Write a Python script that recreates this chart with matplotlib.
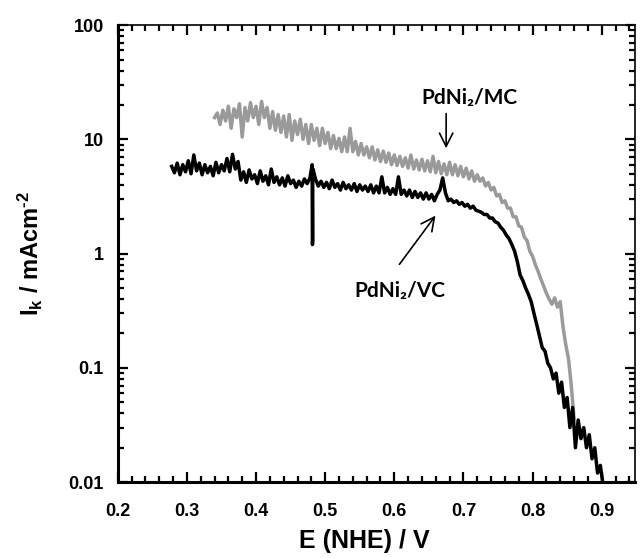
import numpy as np
import matplotlib
matplotlib.use("Agg")
import matplotlib.pyplot as plt
from matplotlib.ticker import FixedLocator, FixedFormatter, LogLocator, NullFormatter, MultipleLocator

plt.rcParams['font.family'] = ['Liberation Sans', 'DejaVu Sans']
plt.rcParams['mathtext.fontset'] = 'custom'
plt.rcParams['mathtext.rm'] = 'Liberation Sans:bold'
plt.rcParams['mathtext.it'] = 'Liberation Sans:bold'
plt.rcParams['mathtext.bf'] = 'Liberation Sans:bold'
plt.rcParams['mathtext.default'] = 'rm'

# ---- data: PdNi2/MC (grey), potential grid start/step and kinetic current ----
mc_e_start, mc_e_step = 0.340, 0.004
mc_ik = [15.5, 17, 13.5, 18, 14.5, 19.5, 12.5, 18.5, 15.5, 20.5,
         10.5, 19, 14.5, 21, 15.5, 19.5, 13.5, 21.5, 15.5, 19,
         12.5, 17.5, 12, 16.5, 11.5, 16, 10.5, 16.5, 9.8, 14.5,
         11, 15, 10, 13.5, 9.2, 13.5, 9.8, 12.5, 8.8, 12.5,
         9.2, 11.5, 8.3, 10.8, 8.3, 10.2, 7.8, 10.5, 7.8, 12.5,
         7.8, 9.6, 7.3, 9.2, 7.3, 8.6, 6.9, 8.6, 6.6, 8.1,
         6.4, 7.9, 6.3, 7.6, 6.0, 7.3, 5.9, 7.1, 5.8, 6.9,
         5.6, 7.3, 5.5, 6.6, 5.4, 6.7, 5.3, 6.5, 5.2, 7.1,
         5.1, 6.4, 5.0, 6.1, 4.9, 6.3, 4.9, 6.0, 4.8, 5.8,
         4.7, 5.6, 4.5, 5.3, 4.3, 4.9, 4.3, 4.6, 3.9, 4.2,
         3.6, 3.8, 3.2, 3.3, 2.8, 2.9, 2.5, 2.5, 2.1, 2.1,
         1.75, 1.7, 1.4, 1.3, 1.05, 0.95, 0.8, 0.7, 0.6, 0.52,
         0.45, 0.40, 0.36, 0.41, 0.34, 0.38, 0.23, 0.16, 0.12, 0.07,
         0.036]

# ---- data: PdNi2/VC (black) ----
vc_e_start, vc_e_step = 0.278, 0.004
vc_ik = [5.8, 5.1, 6.2, 4.9, 6.0, 5.2, 6.5, 5.0, 7.3, 5.3,
         6.2, 4.9, 6.0, 5.1, 5.8, 4.8, 6.3, 5.1, 6.0, 5.3,
         6.8, 5.2, 7.4, 5.5, 6.4, 4.4, 5.2, 4.2, 5.4, 4.5,
         4.9, 4.1, 5.3, 4.3, 4.8, 4.0, 5.5, 4.2, 4.7, 4.0,
         4.6, 3.9, 4.8, 4.1, 4.4, 3.8, 4.3, 3.9, 4.5, 4.1,
         4.6, 4.2, 4.5, 3.9, 4.3, 3.8, 4.2, 3.7, 4.4, 3.8,
         4.1, 3.6, 4.2, 3.7, 4.0, 3.6, 4.1, 3.5, 4.0, 3.6,
         3.9, 3.5, 4.0, 3.4, 3.9, 3.4, 4.7, 3.4, 3.8, 3.3,
         3.7, 3.3, 4.7, 3.3, 3.6, 3.2, 3.6, 3.1, 3.5, 3.1,
         3.4, 3.0, 3.4, 3.0, 3.3, 2.9, 3.3, 3.6, 4.6, 3.4,
         2.9, 3.0, 2.8, 2.9, 2.7, 2.8, 2.6, 2.7, 2.5, 2.6,
         2.4, 2.35, 2.3, 2.2, 2.2, 2.05, 2.05, 1.9, 1.85, 1.7,
         1.6, 1.45, 1.35, 1.2, 1.05, 0.85, 0.65, 0.58, 0.5, 0.44,
         0.38, 0.3, 0.24, 0.19, 0.15, 0.14, 0.11, 0.1, 0.08, 0.09,
         0.06, 0.075, 0.045, 0.055, 0.03, 0.045, 0.02, 0.035, 0.024, 0.03,
         0.02, 0.026, 0.016, 0.02, 0.012, 0.014, 0.0095]

# sharp glitch in the VC trace
vc_spike_e = [0.4812, 0.4816, 0.4820, 0.4824]
vc_spike_ik = [6.0, 1.2, 1.3, 5.5]

x_ticks = [0.2, 0.3, 0.4, 0.5, 0.6, 0.7, 0.8, 0.9]
x_tick_labels = ["0.2", "0.3", "0.4", "0.5", "0.6", "0.7", "0.8", "0.9"]
y_ticks = [0.01, 0.1, 1, 10, 100]
y_tick_labels = ["0.01", "0.1", "1", "10", "100"]

mc_e = mc_e_start + mc_e_step * np.arange(len(mc_ik))
vc_e = vc_e_start + vc_e_step * np.arange(len(vc_ik))
vc_e_all = np.concatenate([vc_e, vc_spike_e])
vc_ik_all = np.concatenate([vc_ik, vc_spike_ik])
order = np.argsort(vc_e_all, kind="stable")
vc_e_all, vc_ik_all = vc_e_all[order], vc_ik_all[order]

fig = plt.figure(figsize=(6.4, 5.58), dpi=100)
ax = fig.add_axes([0.184, 0.136, 0.808, 0.819])

ax.plot(mc_e, mc_ik, color="#9a9a9a", lw=2.5)
ax.plot(vc_e_all, vc_ik_all, color="black", lw=2.5)

ax.set_yscale("log")
ax.set_xlim(0.2, 0.948)
ax.set_ylim(0.01, 100)

ax.xaxis.set_major_locator(FixedLocator(x_ticks))
ax.xaxis.set_major_formatter(FixedFormatter(x_tick_labels))
ax.xaxis.set_minor_locator(MultipleLocator(0.02))
ax.yaxis.set_major_locator(FixedLocator(y_ticks))
ax.yaxis.set_major_formatter(FixedFormatter(y_tick_labels))
ax.yaxis.set_minor_locator(LogLocator(base=10, subs=np.arange(2, 10), numticks=20))
ax.yaxis.set_minor_formatter(NullFormatter())

ax.tick_params(which="both", direction="in", top=True, right=True, width=1.6)
ax.tick_params(which="major", length=7, labelsize=13)
ax.tick_params(which="minor", length=4)
ax.tick_params(axis="x", which="major", pad=15)
ax.tick_params(axis="y", which="major", pad=10)
for lab in ax.get_xticklabels() + ax.get_yticklabels():
    lab.set_fontweight("bold")

for side in ["left", "bottom"]:
    ax.spines[side].set_linewidth(2.2)
for side in ["top", "right"]:
    ax.spines[side].set_linewidth(1.2)

ax.set_xlabel("E (NHE) / V", fontsize=18, fontweight="bold")
ax.xaxis.set_label_coords(0.476, -0.103)
ax.set_ylabel("I$_{k}$ / mAcm$^{\u2010 2}$", fontsize=17, fontweight="bold")
ax.yaxis.set_label_coords(-0.14, 0.5)

ann_font = ['Lato', 'DejaVu Sans']
ax.annotate("", xy=(0.675, 7.9), xytext=(0.675, 17.8),
            arrowprops=dict(arrowstyle="->", lw=1.2, color="black", mutation_scale=24))
ax.text(0.709, 20.5, "PdNi\u2082/MC", ha="center", va="baseline", fontsize=15,
        fontweight="bold", family=ann_font)
ax.annotate("", xy=(0.662, 2.25), xytext=(0.605, 0.77),
            arrowprops=dict(arrowstyle="->", lw=1.2, color="black", mutation_scale=24))
ax.text(0.608, 0.42, "PdNi\u2082/VC", ha="center", va="baseline", fontsize=15,
        fontweight="bold", family=ann_font)

fig.savefig("out.png", dpi=100)
